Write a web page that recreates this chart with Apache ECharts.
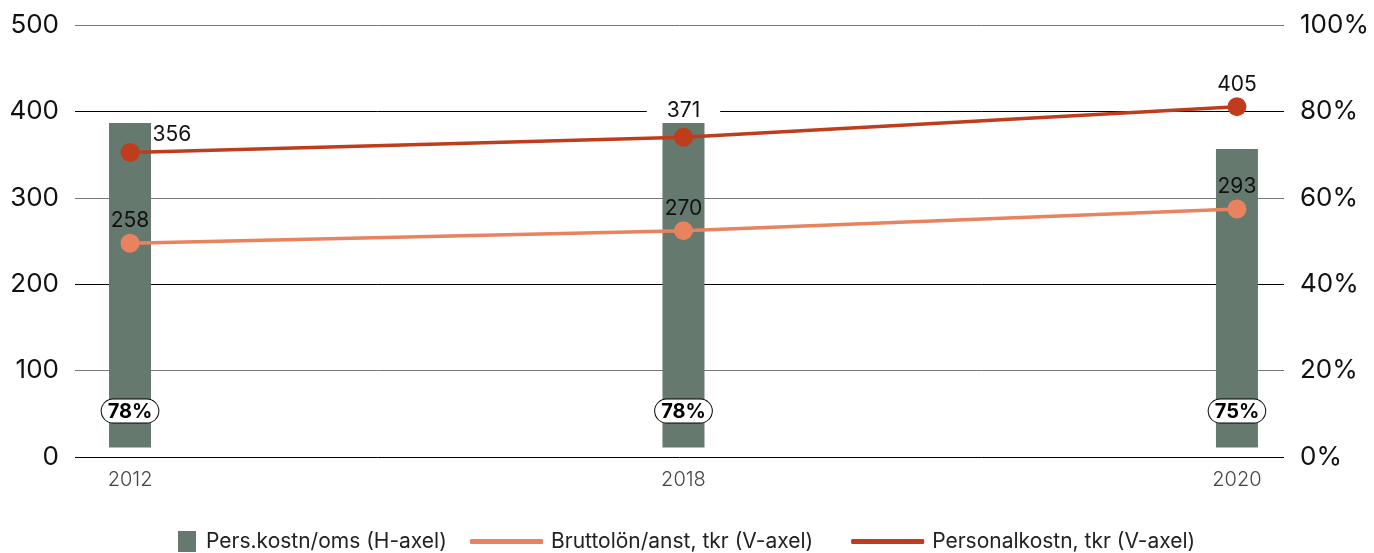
<!DOCTYPE html>
<html>
<head>
<meta charset="utf-8">
<script src="https://cdn.jsdelivr.net/npm/echarts@6/dist/echarts.min.js"></script>
<style>
  html, body { margin: 0; padding: 0; background: #fff; }
  #chart { width: 1374px; height: 553px; }
</style>
</head>
<body>
<div id="chart"></div>
<script>
// ---- data ----
const categories = ['2012', '2018', '2020'];
const categoryPos = [0, 1, 2];

// Pers.kostn/oms (H-axel): bars drawn in % on the right axis (bottom and top of each bar)
const persBarBottom = [2.2, 2.2, 2.2];
const persBarTop = [77.3, 77.3, 71.3];
const persLabels = ['78%', '78%', '75%'];

// Bruttolön/anst, tkr (V-axel)
const bruttolon = [247.5, 262, 287];
const bruttolonLabels = ['258', '270', '293'];

// Personalkostn, tkr (V-axel)
const personalkostn = [352.5, 370, 405.5];
const personalkostnLabels = ['356', '371', '405'];

const names = ['Pers.kostn/oms (H-axel)', 'Bruttolön/anst, tkr (V-axel)', 'Personalkostn, tkr (V-axel)'];
const colors = { bar: '#66796f', brutto: '#e8825f', personal: '#bf3d1c' };
const FONT = 'Inter, "Noto Sans", sans-serif';

const chart = echarts.init(document.getElementById('chart'), null, { renderer: 'canvas' });

const option = {
  animation: false,
  backgroundColor: '#fff',
  textStyle: { fontFamily: FONT },
  grid: { left: 75, right: 90, top: 25, bottom: 96 },
  legend: [
    {
      data: [names[0]],
      left: 178, top: 531, padding: 0,
      icon: 'rect', itemWidth: 18, itemHeight: 21,
      textStyle: { fontFamily: FONT, fontSize: 21, color: '#222', padding: [0, 0, 0, 5] }
    },
    {
      data: [names[1], names[2]],
      left: 470, top: 531, padding: 0,
      icon: 'roundRect', itemWidth: 73, itemHeight: 5, itemGap: 38,
      textStyle: { fontFamily: FONT, fontSize: 21, color: '#222', padding: [0, 0, 0, 3] }
    }
  ],
  xAxis: {
    type: 'value',
    min: -0.0994, max: 2.085,
    splitLine: { show: false },
    axisLine: { show: false },
    axisTick: { show: false },
    axisLabel: {
      customValues: categoryPos,
      formatter: v => categories[Math.round(v)],
      fontFamily: FONT, fontSize: 20, fontWeight: 300, color: '#444', margin: 13
    }
  },
  yAxis: [
    {
      type: 'value', min: 0, max: 500, interval: 100, position: 'left',
      axisLine: { show: false }, axisTick: { show: false },
      axisLabel: { fontFamily: FONT, fontSize: 26, color: '#111', margin: 16 },
      splitLine: { show: true, lineStyle: { color: ['#000', '#777'], width: 1 } }
    },
    {
      type: 'value', min: 0, max: 100, interval: 20, position: 'right',
      axisLine: { show: false }, axisTick: { show: false },
      axisLabel: { fontFamily: FONT, fontSize: 26, color: '#111', margin: 16, formatter: '{value}%' },
      splitLine: { show: false }
    }
  ],
  series: [
    {
      name: names[0],
      type: 'custom', yAxisIndex: 1,
      itemStyle: { color: colors.bar },
      encode: { x: 0, y: [1, 2] },
      data: categoryPos.map((x, i) => [x, persBarBottom[i], persBarTop[i]]),
      renderItem: (params, api) => {
        const x = api.value(0);
        const p0 = api.coord([x, api.value(1)]);
        const p1 = api.coord([x, api.value(2)]);
        const w = 42;
        return {
          type: 'rect',
          shape: { x: p1[0] - w / 2, y: p1[1], width: w, height: p0[1] - p1[1] },
          style: { fill: colors.bar },
          textContent: {
            style: {
              text: persLabels[params.dataIndex],
              font: 'bold 20px Inter, "Noto Sans", sans-serif',
              fill: '#000',
              backgroundColor: '#fff', borderColor: '#000', borderWidth: 1, borderRadius: 12,
              padding: [2, 6, 1, 6]
            }
          },
          textConfig: { position: 'insideBottom', distance: 25 }
        };
      },
      z: 2
    },
    {
      name: names[1],
      type: 'line', yAxisIndex: 0,
      symbol: 'circle', symbolSize: 19,
      lineStyle: { width: 3.5, color: colors.brutto },
      itemStyle: { color: colors.brutto },
      label: {
        show: true, position: 'top', distance: 2,
        formatter: p => bruttolonLabels[p.dataIndex],
        fontFamily: FONT, fontSize: 21, color: '#111'
      },
      z: 3,
      data: categoryPos.map((x, i) => [x, bruttolon[i]])
    },
    {
      name: names[2],
      type: 'line', yAxisIndex: 0,
      symbol: 'circle', symbolSize: 19,
      lineStyle: { width: 3.5, color: colors.personal },
      itemStyle: { color: colors.personal },
      label: {
        show: true, position: 'top', distance: 2,
        formatter: p => personalkostnLabels[p.dataIndex],
        fontFamily: FONT, fontSize: 21, color: '#111'
      },
      z: 4,
      data: categoryPos.map((x, i) => {
        const item = { value: [x, personalkostn[i]] };
        if (i === 0) item.label = { position: 'right', distance: 5, offset: [8, -18] };
        if (i === 1) item.label = { backgroundColor: '#fff', padding: [3, 20, 1, 20], distance: 6 };
        return item;
      })
    }
  ]
};

chart.setOption(option);
</script>
</body>
</html>
